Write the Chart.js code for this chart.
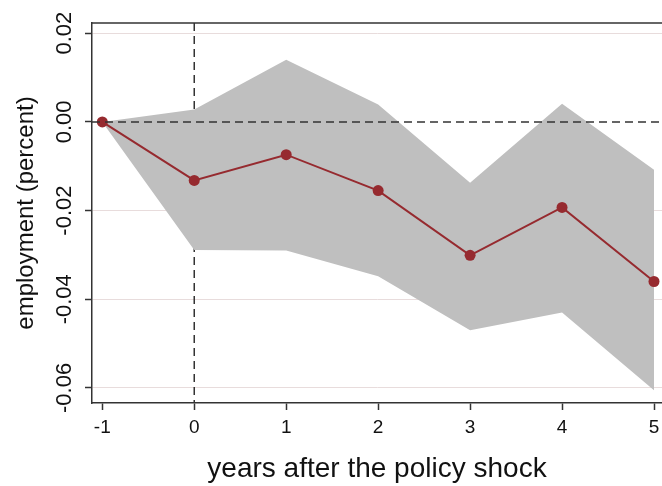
<!DOCTYPE html>
<html>
<head>
<meta charset="utf-8">
<script src="https://cdn.jsdelivr.net/npm/chart.js@4"></script>
<style>
  html, body { margin: 0; padding: 0; background: #fff; }
  #wrap { width: 662px; height: 486px; }
</style>
</head>
<body>
<div id="wrap"><canvas id="chartIrf" width="662" height="486"></canvas></div>
<script>
// === DATA ===
const years = [-1, 0, 1, 2, 3, 4, 5];
const estimate = [0, -0.0132, -0.0074, -0.0155, -0.0301, -0.0193, -0.0360];
const upperCI = [0, 0.0028, 0.0140, 0.0039, -0.0137, 0.0041, -0.0108];
const lowerCI = [0, -0.0289, -0.0290, -0.0348, -0.0470, -0.0430, -0.0605];
const xTicks = [-1, 0, 1, 2, 3, 4, 5];
const yTicks = [-0.06, -0.04, -0.02, 0, 0.02];
const yTickLabels = ['-0.06', '-0.04', '-0.02', '0.00', '0.02'];

const FONT = '"Liberation Sans", Arial, Helvetica, sans-serif';
const INK = '#333';

const pts = arr => years.map((x, i) => ({ x: x, y: arr[i] }));

/**
 * Draws the Stata-like extras: top frame line, dashed reference lines at
 * x = 0 and y = 0, and the rotated y tick labels.
 */
const stataExtras = {
  id: 'stataExtras',
  beforeDatasetsDraw(chart) {
    const { ctx, chartArea: a, scales: { x } } = chart;
    ctx.save();
    ctx.strokeStyle = INK;
    ctx.lineWidth = 1.5;
    ctx.setLineDash([8, 5]);
    const x0 = x.getPixelForValue(0);
    ctx.beginPath();
    ctx.moveTo(x0, a.top);
    ctx.lineTo(x0, a.bottom);
    ctx.stroke();
    ctx.restore();
  },
  afterDatasetsDraw(chart) {
    const { ctx, chartArea: a, scales: { y } } = chart;
    ctx.save();
    ctx.strokeStyle = INK;
    ctx.lineWidth = 1.5;
    ctx.setLineDash([8, 5]);
    const y0 = y.getPixelForValue(0);
    ctx.beginPath();
    ctx.moveTo(a.left, y0);
    ctx.lineTo(a.right, y0);
    ctx.stroke();
    ctx.restore();
  },
  afterDraw(chart) {
    const { ctx, chartArea: a, scales: { y } } = chart;
    ctx.save();
    // top frame line
    ctx.strokeStyle = INK;
    ctx.lineWidth = 1.5;
    ctx.beginPath();
    ctx.moveTo(a.left, a.top);
    ctx.lineTo(chart.width, a.top);
    ctx.stroke();
    // rotated y tick labels
    ctx.fillStyle = '#111';
    ctx.font = '22px ' + FONT;
    ctx.textAlign = 'center';
    ctx.textBaseline = 'middle';
    yTicks.forEach((v, i) => {
      ctx.save();
      ctx.translate(65, y.getPixelForValue(v));
      ctx.rotate(-Math.PI / 2);
      ctx.fillText(yTickLabels[i], 0, 0);
      ctx.restore();
    });
    ctx.restore();
  }
};

const ctxIrf = document.getElementById('chartIrf').getContext('2d');
const chartIrf = new Chart(ctxIrf, {
  type: 'line',
  data: {
    datasets: [
      {
        label: 'upper',
        data: pts(upperCI),
        borderWidth: 0,
        pointRadius: 0,
        backgroundColor: '#bfbfbf',
        fill: '+1',
        order: 2
      },
      {
        label: 'lower',
        data: pts(lowerCI),
        borderWidth: 0,
        pointRadius: 0,
        backgroundColor: '#bfbfbf',
        fill: false,
        order: 2
      },
      {
        label: 'estimate',
        data: pts(estimate),
        borderColor: '#962a2f',
        backgroundColor: '#962a2f',
        borderWidth: 2,
        pointRadius: 5.5,
        pointBorderWidth: 0,
        fill: false,
        order: 1
      }
    ]
  },
  options: {
    responsive: false,
    animation: false,
    layout: { autoPadding: false, padding: { top: 23, right: 0, bottom: 0, left: 0 } },
    plugins: {
      legend: { display: false },
      tooltip: { enabled: false }
    },
    scales: {
      x: {
        type: 'linear',
        min: -1.112,
        max: 5.087,
        afterBuildTicks: s => { s.ticks = xTicks.map(v => ({ value: v })); },
        afterFit: s => { s.height = 83; s.paddingLeft = 0; s.paddingRight = 0; },
        border: { display: true, color: INK, width: 1.5 },
        grid: { display: true, drawOnChartArea: false, tickLength: 7, tickColor: INK, tickWidth: 1.5 },
        ticks: {
          color: '#111',
          font: { family: FONT, size: 19 },
          padding: 6,
          maxRotation: 0,
          callback: v => String(v)
        },
        title: {
          display: true,
          text: 'years after the policy shock',
          color: '#111',
          font: { family: FONT, size: 28 },
          padding: { top: 0, bottom: 0 }
        }
      },
      y: {
        type: 'linear',
        min: -0.0634,
        max: 0.0223,
        afterBuildTicks: s => { s.ticks = yTicks.map(v => ({ value: v })); },
        afterFit: s => { s.width = 92; },
        border: { display: true, color: INK, width: 1.5 },
        grid: {
          color: ctx => (ctx.tick && ctx.tick.value === 0 ? 'rgba(0,0,0,0)' : '#e8dcdc'),
          lineWidth: 1,
          tickLength: 7,
          tickColor: INK,
          tickWidth: 1.5
        },
        ticks: { display: false },
        title: {
          display: true,
          text: 'employment (percent)',
          color: '#111',
          font: { family: FONT, size: 24 },
          padding: { top: 12, bottom: 0 }
        }
      }
    }
  },
  plugins: [stataExtras]
});
</script>
</body>
</html>
